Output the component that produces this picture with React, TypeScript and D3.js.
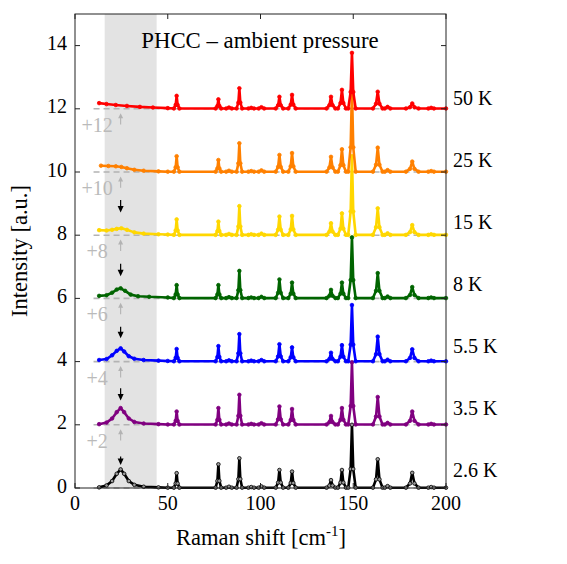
import React from "react";
import * as d3 from "d3";

// Raman spectra of PHCC, stacked by temperature
const temperatures = ["2.6 K", "3.5 K", "5.5 K", "8 K", "15 K", "25 K", "50 K"];
const offsets = [0, 2, 4, 6, 8, 10, 12];
const colors = ["#000000", "#800080", "#0000ff", "#006400", "#ffd700", "#ff8000", "#ff0000"];

// phonon lines (cm^-1) and their half widths at the foot
const peakCenters = [54.8, 77.3, 88.6, 110.2, 117.0, 138.0, 143.9, 149.3, 163.2, 181.8];
const peakHalfWidths = [1.5, 1.5, 1.5, 2.0, 2.0, 2.4, 2.2, 2.0, 2.6, 3.4];

const heights26 = [0.47, 0.75, 0.94, 0.57, 0.52, 0.25, 0.57, 2.0, 0.91, 0.48];
const heights35 = [0.42, 0.53, 0.95, 0.58, 0.5, 0.28, 0.53, 1.98, 0.88, 0.42];
const heights55 = [0.4, 0.49, 0.87, 0.55, 0.45, 0.28, 0.52, 1.79, 0.79, 0.39];
const heights8 = [0.42, 0.42, 0.87, 0.6, 0.5, 0.27, 0.5, 1.93, 0.8, 0.36];
const heights15 = [0.5, 0.43, 0.92, 0.59, 0.61, 0.38, 0.69, 2.5, 0.85, 0.32];
const heights25 = [0.5, 0.38, 0.91, 0.54, 0.6, 0.48, 0.72, 2.6, 0.77, 0.33];
const heights50 = [0.41, 0.3, 0.65, 0.38, 0.44, 0.38, 0.6, 1.77, 0.54, 0.17];
const peakHeights = [heights26, heights35, heights55, heights8, heights15, heights25, heights50];

// low-frequency part of each spectrum (hump near 25 cm^-1)
const low26 = [[13, 0.02], [17, 0.08], [20, 0.22], [22.5, 0.45], [24.6, 0.59], [26.5, 0.45], [29, 0.22], [32, 0.1], [37, 0.04], [45, 0.02], [50, 0.01]];
const low35 = [[13, 0.02], [17, 0.07], [20, 0.2], [22.5, 0.4], [24.6, 0.53], [26.5, 0.4], [29, 0.2], [32, 0.09], [37, 0.04], [45, 0.02], [50, 0.01]];
const low55 = [[13, 0.05], [17, 0.08], [20, 0.2], [22.5, 0.34], [24.6, 0.42], [26.5, 0.32], [29, 0.17], [32, 0.09], [37, 0.05], [45, 0.03], [50, 0.02]];
const low8 = [[13, 0.08], [17, 0.1], [20, 0.18], [22.5, 0.28], [24.6, 0.32], [27, 0.24], [30, 0.12], [34, 0.07], [40, 0.05], [50, 0.03]];
const low15 = [[13, 0.16], [17, 0.15], [20, 0.17], [22.5, 0.2], [25, 0.22], [28, 0.17], [32, 0.09], [37, 0.05], [45, 0.03], [50, 0.02]];
const low25 = [[14, 0.2], [18, 0.19], [22, 0.18], [25, 0.16], [28, 0.12], [32, 0.07], [37, 0.04], [45, 0.02], [50, 0.01]];
const low50 = [[13, 0.18], [17, 0.15], [22, 0.12], [28, 0.09], [35, 0.06], [42, 0.04], [50, 0.02]];
const lowParts = [low26, low35, low55, low8, low15, low25, low50];

// weak features on the baseline
const minorCenters = [83, 95, 100.5, 168.5, 192];
const minorHeights = [0.04, 0.03, 0.05, 0.06, 0.03];

// down arrows marking the hump (first five spectra), relative to the offset
const arrowStart = [1.0, 1.16, 1.1, 1.1, 1.11];
const arrowEnd = [0.73, 0.77, 0.74, 0.7, 0.72];
const humpPosition = 24.6;

const xTicks = [0, 50, 100, 150, 200];
const yTicks = [0, 2, 4, 6, 8, 10, 12, 14];
const shade = [16, 44];

const W = 567;
const H = 564;
const margin = { left: 75, right: 121, top: 14, bottom: 76 };
const SERIF = "Liberation Serif";

function spectrum(i: number): [number, number][] {
  const pts: [number, number][] = lowParts[i].map(([x, y]) => [x, y] as [number, number]);
  const foot = 0.01;
  minorCenters.forEach((c, k) => {
    pts.push([c - 1.5, foot], [c, minorHeights[k]], [c + 1.5, foot]);
  });
  peakCenters.forEach((c, k) => {
    const w = peakHalfWidths[k];
    const h = peakHeights[i][k];
    pts.push([c - w, foot], [c - w * 0.35, h * 0.3], [c, h], [c + w * 0.35, h * 0.3], [c + w, foot]);
  });
  pts.push([200, 0.01]);
  pts.sort((a, b) => a[0] - b[0]);
  return pts;
}

// every label uses the same serif face; anchoring goes through CSS
function Label(props: any) {
  const { children, anchor, ...rest } = props;
  return (
    <text style={{ fontFamily: SERIF, textAnchor: anchor || "start" }} {...rest}>
      {children}
    </text>
  );
}

export default function App() {
  const x = d3.scaleLinear().domain([0, 200]).range([margin.left, W - margin.right]);
  const y = d3.scaleLinear().domain([0, 15]).range([H - margin.bottom, margin.top]);
  const [x0, x1] = x.range();
  const [y0, y1] = y.range();
  // temperature labels sit in a column to the right of the frame
  const labelY = d3.scalePoint<string>().domain(temperatures).range([472, 100]);

  const line = d3
    .line<[number, number]>()
    .x((d) => x(d[0]))
    .y((d) => y(d[1]));

  const tickLen = 5;
  const frame = "#222";

  return (
    <svg width={W} height={H} style={{ position: "absolute", left: 0, top: 0, background: "#fff" }}>
      {/* shaded low-frequency window */}
      <rect x={x(shade[0])} y={y1} width={x(shade[1]) - x(shade[0])} height={y0 - y1} fill="#e3e3e3" />

      {/* offset guides */}
      {offsets.map((o, i) => (
        <g key={"off" + i}>
          <line x1={x(10)} x2={x(200)} y1={y(o)} y2={y(o)} stroke="#b3b3b3" strokeWidth={1.6} strokeDasharray="6 4" />
          {o > 0 && (
            <g>
              <line x1={x(humpPosition)} x2={x(humpPosition)} y1={y(o - 0.5)} y2={y(o - 0.14) + 4} stroke="#b3b3b3" strokeWidth={1.1} />
              <path d={`M${x(humpPosition)},${y(o - 0.14)} l-2.5,5 l5,0 z`} fill="#b3b3b3" />
              <Label x={x(11.9)} y={y(o) + 23} anchor="middle" fontSize={20} fill="#bababa">
                {"+" + o}
              </Label>
            </g>
          )}
        </g>
      ))}

      {/* spectra */}
      {offsets.map((o, i) => {
        const pts = spectrum(i).map(([px, py]) => [px, py + o] as [number, number]);
        const isBlack = i === 0;
        return (
          <g key={"s" + i}>
            <path d={line(pts) || ""} fill="none" stroke={colors[i]} strokeWidth={2.6} strokeLinejoin="round" />
            {pts.map((p, k) => (
              <circle
                key={k}
                cx={x(p[0])}
                cy={y(p[1])}
                r={1.8}
                fill={isBlack ? "#9a9a9a" : colors[i]}
                stroke={colors[i]}
                strokeWidth={0.8}
              />
            ))}
          </g>
        );
      })}

      {/* arrows on the hump */}
      {arrowStart.map((a, i) => {
        const xa = x(humpPosition);
        const ya = y(offsets[i] + a);
        const yb = y(offsets[i] + arrowEnd[i]);
        return (
          <g key={"arr" + i}>
            <line x1={xa} x2={xa} y1={ya} y2={yb - 5} stroke="#000" strokeWidth={1.2} />
            <path d={`M${xa},${yb} l-3,-6.5 l6,0 z`} fill="#000" />
          </g>
        );
      })}

      {/* temperature labels */}
      {temperatures.map((t) => (
        <Label key={t} x={x1 + 7} y={labelY(t)} dominantBaseline="middle" fontSize={20} fill="#000">
          {t}
        </Label>
      ))}

      {/* title */}
      <Label x={260} y={48} anchor="middle" fontSize={22.8} fill="#000">
        PHCC – ambient pressure
      </Label>

      {/* frame and ticks */}
      <rect x={x0} y={y1} width={x1 - x0} height={y0 - y1} fill="none" stroke={frame} strokeWidth={1} />
      {xTicks.map((t) => (
        <g key={"xt" + t}>
          <line x1={x(t)} x2={x(t)} y1={y0} y2={y0 - tickLen} stroke={frame} />
          <line x1={x(t)} x2={x(t)} y1={y1} y2={y1 + tickLen} stroke={frame} />
          <Label x={x(t)} y={y0 + 22} anchor="middle" fontSize={20} fill="#000">
            {t}
          </Label>
        </g>
      ))}
      {yTicks.map((t) => (
        <g key={"yt" + t}>
          <line x1={x0} x2={x0 + tickLen} y1={y(t)} y2={y(t)} stroke={frame} />
          <line x1={x1} x2={x1 - tickLen} y1={y(t)} y2={y(t)} stroke={frame} />
          <Label x={x0 - 8} y={y(t)} anchor="end" dominantBaseline="middle" fontSize={20} fill="#000">
            {t}
          </Label>
        </g>
      ))}

      {/* axis titles */}
      <Label x={261} y={545} anchor="middle" fontSize={22.5} fill="#000">
        Raman shift [cm
        <tspan fontSize={15} dy={-9}>
          -1
        </tspan>
        <tspan dy={9}>]</tspan>
      </Label>
      <Label transform={`translate(27,251) rotate(-90)`} anchor="middle" fontSize={22.5} fill="#000">
        Intensity [a.u.]
      </Label>
    </svg>
  );
}
